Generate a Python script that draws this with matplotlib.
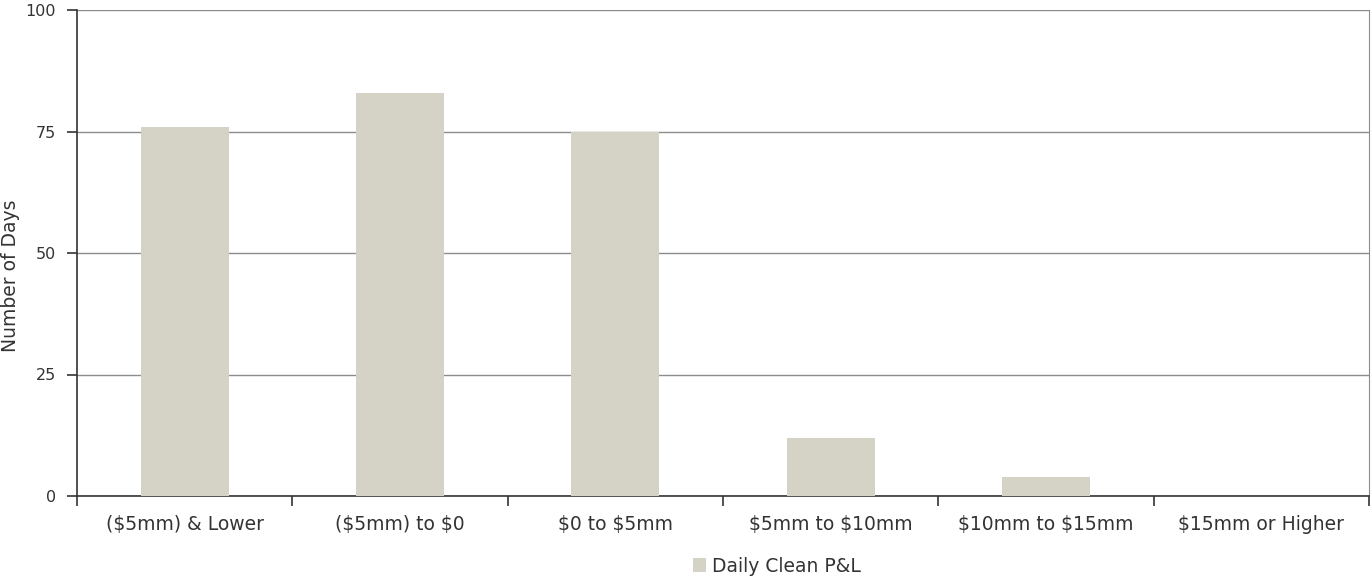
import numpy as np
import matplotlib.pyplot as plt
from matplotlib.patches import Patch

categories = ['($5mm) & Lower', '($5mm) to $0', '$0 to $5mm',
              '$5mm to $10mm', '$10mm to $15mm', '$15mm or Higher']
days = [76, 83, 75, 12, 4, 0]
y_ticks = [0, 25, 50, 75, 100]
series_name = 'Daily Clean P&L'

bar_color = '#d5d2c6'
text_color = '#333333'

plt.rcParams['font.family'] = ['DejaVu Sans']
plt.rcParams['text.parse_math'] = False

fig = plt.figure(figsize=(13.71, 5.78), dpi=100)
ax = fig.add_axes([77 / 1371, 1 - 496 / 578, (1369 - 77) / 1371, (496 - 10) / 578])

x = np.arange(len(categories))
ax.bar(x, days, width=0.41, color=bar_color, zorder=3)

ax.set_xlim(-0.5, len(categories) - 0.5)
ax.set_ylim(0, 100)
ax.set_yticks(y_ticks)
ax.set_yticklabels([str(v) for v in y_ticks], fontsize=11.5, color=text_color)
ax.yaxis.grid(True, color='#8c8c8c', linewidth=1, zorder=0)

# category labels centred, ticks on boundaries
ax.set_xticks(x)
ax.set_xticklabels(categories, fontsize=13.5, color=text_color)
ax.tick_params(axis='x', length=0, pad=14)
ax.set_xticks(np.arange(-0.5, len(categories)), minor=True)
ax.tick_params(axis='x', which='minor', length=7, width=1.2, color='#333333', direction='out')
ax.tick_params(axis='y', length=7, width=1.2, color='#333333', direction='out', pad=8)

ax.spines['top'].set_visible(False)
ax.spines['right'].set_color('#8c8c8c')
ax.spines['left'].set_color('#333333')
ax.spines['bottom'].set_color('#333333')
ax.spines['left'].set_linewidth(1.2)
ax.spines['bottom'].set_linewidth(1.2)

fig.text(11 / 1371, 1 - 276 / 578, 'Number of Days', rotation=90, ha='center', va='center',
         fontsize=13.5, color=text_color)

handle = Patch(facecolor=bar_color, edgecolor='none', label=series_name)
fig.legend(handles=[handle], loc='center', bbox_to_anchor=(777 / 1371, 1 - 566 / 578),
           frameon=False, fontsize=13.5, handlelength=0.7, handleheight=0.7,
           handletextpad=0.3, labelcolor=text_color)

fig.savefig('out.png', dpi=100)
